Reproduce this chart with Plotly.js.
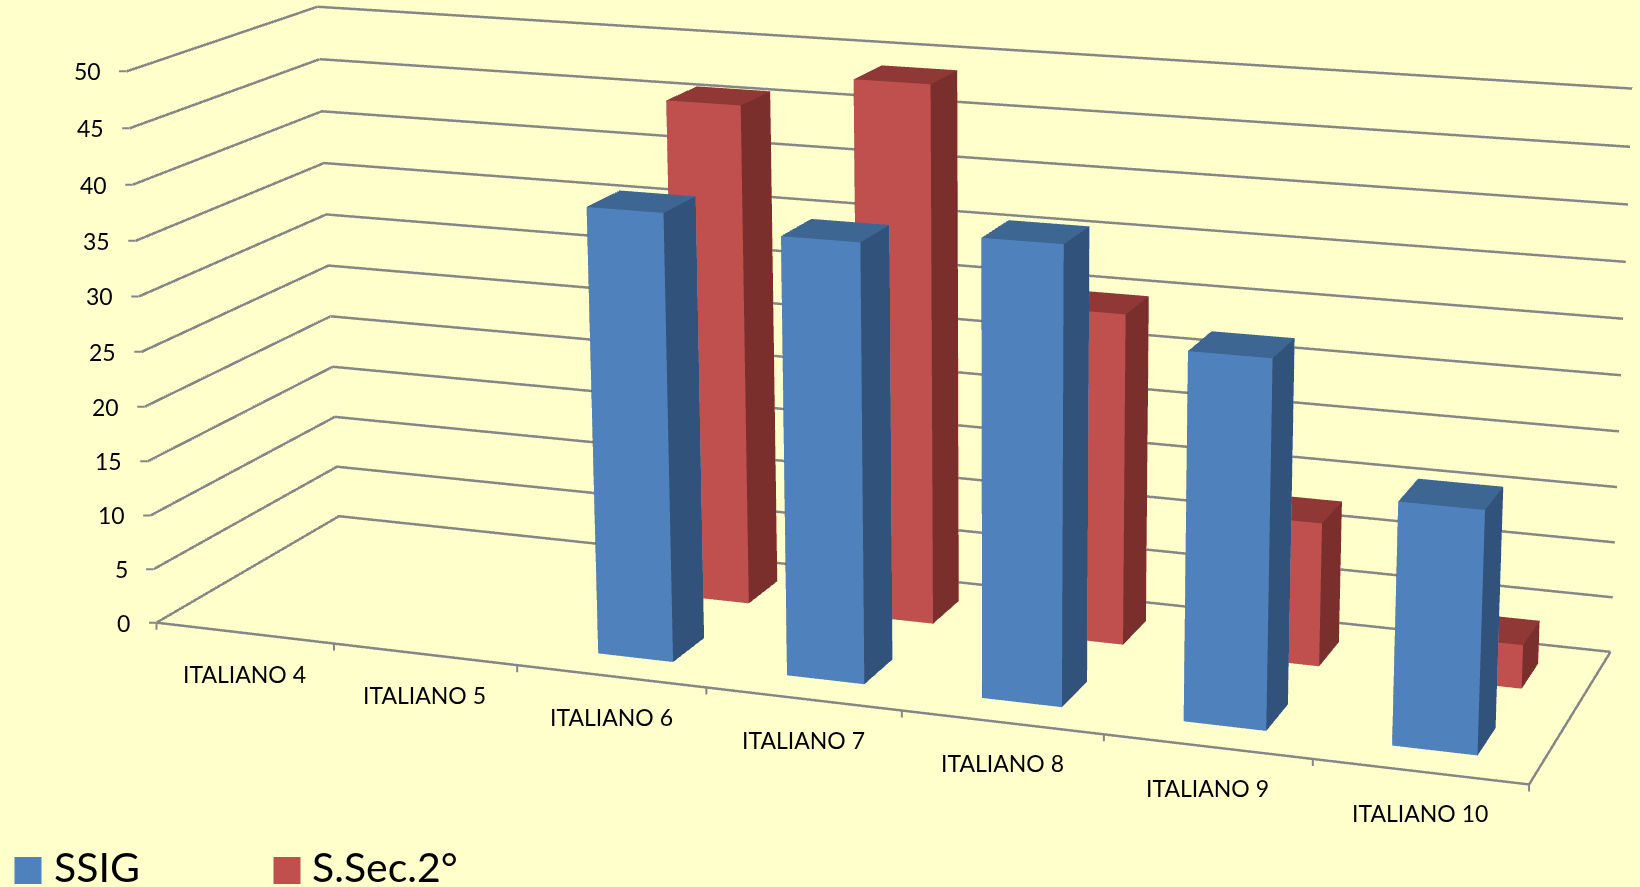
<!DOCTYPE html>
<html><head><meta charset="utf-8">
<script src="https://cdn.plot.ly/plotly-3.0.1.min.js"></script>
<style>html,body{margin:0;padding:0;background:#FFFFCC;overflow:hidden;width:1640px;height:887px}
#wrap{position:absolute;left:0;top:0;width:1640px;height:887px;overflow:hidden}
#plot{position:absolute}</style></head>
<body><div id="wrap"><div id="plot"></div></div>
<script>
var categories=["ITALIANO 4","ITALIANO 5","ITALIANO 6","ITALIANO 7","ITALIANO 8","ITALIANO 9","ITALIANO 10"];
var ssig=[0,0,39.9,38.7,39.9,31.8,20.8];
var ssec=[0,0,45.9,48.9,29.9,12.9,3.9];
var seriesNames=["SSIG","S.Sec.2°"];
var yTicks=[0,5,10,15,20,25,30,35,40,45,50];

var K=3.8, W=Math.round(1640*K), H=Math.round(887*K), PX=989.5, PY=328.5;
var el=document.getElementById('plot');
el.style.width=W+'px';el.style.height=H+'px';el.style.left=(PX-W/2)+'px';el.style.top=(PY-H/2)+'px';
function paperX(px){return (px-(PX-W/2))/W;}
function paperY(py){return 1-(py-(PY-H/2))/H;}
var BLUE=['#4F81BD','#31527A','#3E6693'], RED=['#C0504D','#7A2F2D','#8F3836'], GREY='#868686';
function mesh(vals,y0,y1,cols,name){
  var x=[],y=[],z=[],I=[],J=[],Kk=[],fc=[];
  var tris=[[0,1,5,0],[0,5,4,0],[1,2,6,1],[1,6,5,1],[4,5,6,2],[4,6,7,2],[3,2,6,0],[3,6,7,0],[0,3,7,1],[0,7,4,1]];
  vals.forEach(function(v,i){ if(!v) return;
    var x0=i+0.3,x1=i+0.7,o=x.length;
    x.push(x0,x1,x1,x0,x0,x1,x1,x0);y.push(y0,y0,y1,y1,y0,y0,y1,y1);z.push(0,0,0,0,v,v,v,v);
    tris.forEach(function(t){I.push(o+t[0]);J.push(o+t[1]);Kk.push(o+t[2]);fc.push(cols[t[3]]);});
  });
  return {type:'mesh3d',x:x,y:y,z:z,i:I,j:J,k:Kk,facecolor:fc,flatshading:true,name:name,showlegend:false,hoverinfo:'skip',
    lighting:{ambient:1,diffuse:0,specular:0,roughness:1,fresnel:0}};
}
var n=categories.length, top=yTicks[yTicks.length-1];
var gx=[],gy=[],gz=[];
yTicks.forEach(function(v){gx.push(0,0,n,null);gy.push(0,1,1,null);gz.push(v,v,v,null);});
gx.push(0,n,n,null,0,0);gy.push(0,0,1,null,0,0);gz.push(0,0,0,null,0,top);
var traces=[
 {type:'scatter3d',mode:'lines',x:gx,y:gy,z:gz,line:{color:GREY,width:5},hoverinfo:'skip',showlegend:false},
 mesh(ssig,0.15,0.35,BLUE,seriesNames[0]),
 mesh(ssec,0.65,0.85,RED,seriesNames[1])
];
var ax={showbackground:false,showspikes:false,showline:false,showgrid:false,zeroline:false,showticklabels:false,ticks:'',title:{text:''}};
var ann=[];
categories.forEach(function(c,i){ann.push({x:i+0.5,y:0,z:0,text:c,showarrow:false,yshift:-41,font:{family:'Lato',size:23,color:'#000'}});});
yTicks.forEach(function(v){
  ann.push({x:0,y:0,z:v,text:String(v),showarrow:false,xanchor:'right',xshift:-24,font:{family:'Lato',size:23,color:'#000'}});
  ann.push({x:0,y:0,z:v,text:' ',showarrow:true,arrowhead:0,arrowwidth:2,arrowcolor:GREY,ax:-9,ay:0,standoff:0,font:{size:1}});
});
for(var t=0;t<=n;t++){ann.push({x:t,y:0,z:0,text:' ',showarrow:true,arrowhead:0,arrowwidth:2,arrowcolor:GREY,ax:0,ay:9,standoff:0,font:{size:1}});}
var legX=[14,273], legT=[51,309];
var layout={width:W,height:H,margin:{l:0,r:0,t:0,b:0},paper_bgcolor:'#FFFFCC',showlegend:false,
 shapes:[0,1].map(function(i){return {type:'rect',xref:'paper',yref:'paper',x0:paperX(legX[i]),x1:paperX(legX[i]+27),y0:paperY(884),y1:paperY(857),fillcolor:[BLUE[0],RED[0]][i],line:{width:0}};}),
 annotations:[0,1].map(function(i){return {xref:'paper',yref:'paper',x:paperX(legT[i]),y:paperY(866),xanchor:'left',yanchor:'middle',text:seriesNames[i],showarrow:false,font:{family:'Lato',size:41,color:'#000'}};}),
 scene:{domain:{x:[0,1],y:[0,1]},aspectmode:'manual',aspectratio:{x:0.995,y:0.2751,z:0.4256},
  camera:{projection:{type:'perspective'},eye:{x:0.9748,y:-2.5558,z:0.7251},center:{x:0.0485,y:0.1081,z:0.0029},up:{x:-0.0807,y:0.2346,z:0.9688}},
  xaxis:Object.assign({},ax,{range:[0,n]}),
  yaxis:Object.assign({},ax,{range:[0,1]}),
  zaxis:Object.assign({},ax,{range:[0,top]}),
  annotations:ann
 }};
Plotly.newPlot(el,traces,layout,{displayModeBar:false,plotGlPixelRatio:1});
</script></body></html>
